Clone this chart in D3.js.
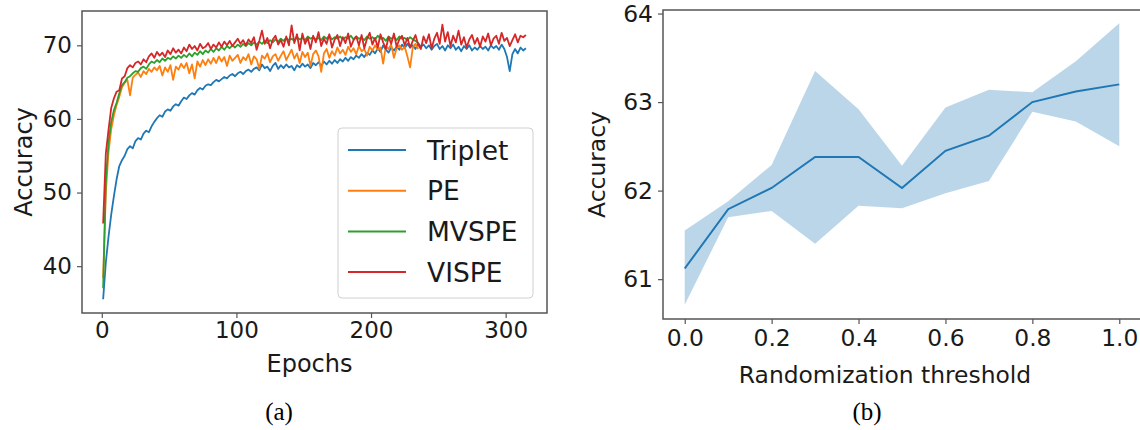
<!DOCTYPE html>
<html>
<head>
<meta charset="utf-8">
<script src="https://cdn.jsdelivr.net/npm/d3@7"></script>
<style>
  body { margin: 0; background: #fff; }
  svg { display: block; font-family: "DejaVu Sans", sans-serif; }
</style>
</head>
<body>
<svg width="1140" height="430"></svg>
<script>
// ---- data (a): accuracy per epoch, sampled every 2nd epoch ----
const epochs = [
  1,3,5,7,9,11,13,15,17,19, 21,23,25,27,29,31,33,35,37,39,
  41,43,45,47,49,51,53,55,57,59, 61,63,65,67,69,71,73,75,77,79,
  81,83,85,87,89,91,93,95,97,99, 101,103,105,107,109,111,113,115,117,119,
  121,123,125,127,129,131,133,135,137,139, 141,143,145,147,149,151,153,155,157,159,
  161,163,165,167,169,171,173,175,177,179, 181,183,185,187,189,191,193,195,197,199,
  201,203,205,207,209,211,213,215,217,219, 221,223,225,227,229,231,233,235,237,239,
  241,243,245,247,249,251,253,255,257,259, 261,263,265,267,269,271,273,275,277,279,
  281,283,285,287,289,291,293,295,297,299, 301,303,305,307,309,311,313,315
];

const triplet = [
  35.5,40.5,44.0,47.0,49.5,51.8,53.6,54.4,55.0,55.9, 56.3,56.0,57.0,57.4,57.2,58.0,58.4,58.2,59.0,59.6,
  60.1,60.5,60.3,61.0,61.3,61.1,61.7,62.0,61.8,62.4, 62.9,62.7,63.2,63.5,63.3,63.9,64.2,64.0,64.5,64.7,
  64.6,65.0,65.3,65.1,65.4,65.7,65.5,65.9,66.1,65.8, 66.2,66.4,66.1,66.5,66.7,66.4,66.8,67.0,66.6,67.4,
  66.9,67.1,66.5,67.2,67.6,66.8,67.3,66.9,67.4,67.0, 67.2,66.6,67.3,67.0,67.5,67.1,67.4,66.9,67.6,67.3,
  67.7,67.2,67.8,67.4,67.9,67.5,68.0,67.6,68.1,67.8, 68.3,67.9,68.4,68.1,68.6,68.3,68.8,68.4,69.0,68.7,
  69.3,68.9,69.6,69.1,70.0,69.4,69.0,69.7,69.3,69.8, 69.4,70.1,69.6,70.2,69.7,70.0,69.5,70.3,69.8,70.1,
  69.6,70.0,69.4,69.9,70.2,69.5,69.9,69.3,70.0,69.6, 70.1,69.4,69.8,69.2,69.9,69.5,70.0,69.3,69.7,69.4,
  69.9,69.5,69.8,69.3,70.0,69.6,69.9,69.4,70.1,69.5, 68.4,66.5,68.8,69.5,68.9,69.7,69.3,69.6
];

const pe = [
  38.4,50.0,55.5,58.6,60.5,61.9,63.0,64.3,64.9,65.3, 63.2,65.6,66.0,66.3,65.7,66.5,66.1,66.8,66.4,67.0,
  66.6,67.2,65.9,67.0,66.4,67.3,65.3,67.1,66.7,67.5, 66.9,67.6,66.2,67.4,65.5,67.8,67.1,68.0,67.3,68.1,
  67.5,68.3,67.6,68.5,67.8,68.4,67.2,68.6,67.9,68.3, 68.7,67.6,68.4,68.0,68.8,67.4,68.5,68.1,66.8,68.6,
  68.2,68.9,67.7,68.5,68.8,67.9,68.6,69.2,68.0,68.7, 69.4,68.2,68.9,67.6,69.1,68.4,69.0,67.2,68.8,69.3,
  68.5,66.4,68.9,69.5,68.3,69.2,68.6,69.7,68.9,69.4, 68.7,69.8,69.1,69.6,68.8,69.9,69.2,69.5,68.6,69.8,
  69.3,70.0,69.4,69.7,67.5,69.9,69.5,70.1,68.3,69.6, 70.0,69.4,69.8,68.5,67.0,69.7,70.2,69.5
];

const mvspe = [
  37.0,51.5,56.8,59.6,61.2,62.2,63.5,64.6,65.0,65.6, 65.8,66.2,66.5,66.4,66.9,67.1,66.8,67.4,67.8,67.6,
  68.0,67.7,68.2,67.9,68.3,68.1,68.5,68.2,68.6,68.3, 68.7,68.4,68.9,68.5,69.0,68.7,69.2,68.8,69.3,69.0,
  69.5,69.1,69.6,69.3,69.8,69.4,69.9,69.6,70.0,69.7, 70.1,69.8,70.2,69.9,70.3,70.0,70.4,70.1,70.5,70.2,
  70.6,70.3,70.7,70.4,70.8,70.5,70.9,70.6,71.0,70.7, 70.9,70.6,71.1,70.8,71.0,70.7,71.2,70.9,71.1,70.8,
  71.0,70.7,71.2,70.9,71.3,70.8,71.1,70.9,71.2,70.8, 71.1,70.9,71.3,70.8,71.2,70.9,71.0,70.7,71.2,70.9,
  71.1,70.8,71.3,70.9,71.0,70.6,71.2,70.9,71.1,70.7, 71.2,70.9,71.0,70.7,71.1,70.8,70.6,70.3
];

const vispe = [
  45.8,55.3,58.5,61.5,62.8,63.7,63.9,65.5,65.8,66.9, 67.3,67.0,67.6,67.8,67.4,68.1,67.7,68.5,68.9,68.3,
  69.1,68.6,69.0,68.4,69.3,68.8,69.6,69.0,69.4,68.9, 69.7,69.2,70.1,69.5,69.9,69.3,70.2,69.6,69.8,70.3,
  69.5,70.1,69.7,70.4,69.8,70.5,70.0,70.6,69.9,70.4, 70.9,70.2,70.7,70.0,70.8,70.3,71.1,69.4,70.6,72.0,
  70.2,71.0,69.6,70.8,71.3,70.1,70.7,69.8,71.2,70.0, 72.7,70.3,71.5,69.3,71.6,70.2,71.0,69.5,71.3,70.4,
  71.8,69.9,70.9,70.2,71.5,69.7,70.8,71.4,69.9,71.1, 70.3,71.6,69.8,70.7,71.2,70.0,71.4,69.6,70.9,71.7,
  70.1,71.0,69.7,71.5,70.4,69.5,71.1,70.2,71.6,69.8, 70.8,71.3,70.0,71.0,69.7,70.6,71.4,70.1,69.5,71.2,
  70.3,71.5,69.6,70.9,71.7,70.2,72.8,70.5,71.8,69.9, 71.3,70.4,72.0,70.1,71.1,69.7,70.8,71.4,70.2,71.0,
  69.8,71.2,70.5,71.6,70.0,70.9,71.3,70.2,71.7,70.6, 71.0,69.9,70.7,71.5,70.4,71.3,71.1,71.4
];

const seriesNames = ['Triplet', 'PE', 'MVSPE', 'VISPE'];
const seriesValues = [triplet, pe, mvspe, vispe];
const seriesColors = ['#1f77b4', '#ff7f0e', '#2ca02c', '#d62728'];
const epochTicks = [0, 100, 200, 300];
const accTicksA = [40, 50, 60, 70];

// ---- data (b): accuracy vs randomization threshold ----
const thresholds = [0.0, 0.1, 0.2, 0.3, 0.4, 0.5, 0.6, 0.7, 0.8, 0.9, 1.0];
const accMean  = [61.12, 61.79, 62.03, 62.38, 62.38, 62.03, 62.45, 62.62, 63.00, 63.12, 63.20];
const accUpper = [61.55, 61.88, 62.29, 63.35, 62.92, 62.28, 62.94, 63.14, 63.11, 63.46, 63.89];
const accLower = [60.71, 61.70, 61.77, 61.40, 61.83, 61.80, 61.97, 62.11, 62.89, 62.78, 62.50];
const thrTicks = [0.0, 0.2, 0.4, 0.6, 0.8, 1.0];
const accTicksB = [61, 62, 63, 64];

const svg = d3.select('svg');
const spine = '#555';
const ink = '#1a1a1a';

const styleAxis = (g, size) => {
  g.select('.domain').remove();
  g.selectAll('.tick line').attr('stroke', spine).attr('stroke-width', 1.2);
  g.selectAll('.tick text').attr('fill', ink).style('font-size', size + 'px')
    .style('font-family', '"DejaVu Sans", sans-serif');
};

// ================= chart (a) =================
const A = { left: 82, right: 547, top: 11, bottom: 313 };

const xA = d3.scaleLinear().domain([-14.7, 330.7]).range([A.left, A.right]);
const yA = d3.scaleLinear().domain([33.64, 74.66]).range([A.bottom, A.top]);

svg.append('g')
  .attr('transform', `translate(${A.left},0)`)
  .call(d3.axisLeft(yA).tickValues(accTicksA).tickSize(5).tickPadding(5))
  .call(g => styleAxis(g, 23));

svg.append('g')
  .attr('transform', `translate(0,${A.bottom})`)
  .call(d3.axisBottom(xA).tickValues(epochTicks).tickSize(5).tickPadding(4))
  .call(g => styleAxis(g, 23));

const lineA = d3.line()
  .x(d => xA(d[0]))
  .y(d => yA(d[1]));

seriesValues.forEach((vals, i) => {
  svg.append('path')
    .datum(vals.map((v, j) => [epochs[j], v]))
    .attr('fill', 'none')
    .attr('stroke', seriesColors[i])
    .attr('stroke-width', 1.8)
    .attr('stroke-linejoin', 'round')
    .attr('d', lineA);
});

svg.append('rect')
  .attr('x', A.left).attr('y', A.top)
  .attr('width', A.right - A.left).attr('height', A.bottom - A.top)
  .attr('fill', 'none').attr('stroke', spine).attr('stroke-width', 1.5);

// legend
const leg = svg.append('g').attr('transform', 'translate(338,128)');
leg.append('rect')
  .attr('width', 195).attr('height', 170).attr('rx', 4)
  .attr('fill', '#fff').attr('fill-opacity', 0.8)
  .attr('stroke', '#d0d0d0').attr('stroke-width', 1);
seriesNames.forEach((name, i) => {
  const yy = 22 + i * 40.7;
  leg.append('line')
    .attr('x1', 10).attr('x2', 68).attr('y1', yy).attr('y2', yy)
    .attr('stroke', seriesColors[i]).attr('stroke-width', 2);
  leg.append('text')
    .attr('x', 89).attr('y', yy + 9.5)
    .attr('fill', ink).style('font-size', '26.5px')
    .text(name);
});

svg.append('text')
  .attr('x', (A.left + A.right) / 2 - 5).attr('y', 372)
  .attr('text-anchor', 'middle').attr('fill', ink)
  .style('font-size', '24px').text('Epochs');

svg.append('text')
  .attr('transform', `translate(32,${(A.top + A.bottom) / 2}) rotate(-90)`)
  .attr('text-anchor', 'middle').attr('fill', ink)
  .style('font-size', '24px').text('Accuracy');

svg.append('text')
  .attr('x', 279).attr('y', 420)
  .attr('text-anchor', 'middle').attr('fill', '#000')
  .style('font-family', '"Liberation Serif", serif').style('font-size', '25px')
  .text('(a)');

// ================= chart (b) =================
const B = { left: 663, right: 1141, top: 10, bottom: 319 };

const xB = d3.scaleLinear().domain([-0.05, 1.05]).range([B.left, B.right]);
const yB = d3.scaleLinear().domain([60.55, 64.04]).range([B.bottom, B.top]);

svg.append('path')
  .datum(thresholds.map((t, i) => [t, accLower[i], accUpper[i]]))
  .attr('fill', '#1f77b4').attr('fill-opacity', 0.3)
  .attr('d', d3.area().x(d => xB(d[0])).y0(d => yB(d[1])).y1(d => yB(d[2])));

svg.append('path')
  .datum(thresholds.map((t, i) => [t, accMean[i]]))
  .attr('fill', 'none').attr('stroke', '#1f77b4').attr('stroke-width', 2)
  .attr('d', d3.line().x(d => xB(d[0])).y(d => yB(d[1])));

svg.append('g')
  .attr('transform', `translate(${B.left},0)`)
  .call(d3.axisLeft(yB).tickValues(accTicksB).tickFormat(d3.format('d')).tickSize(5).tickPadding(5))
  .call(g => styleAxis(g, 23.4));

svg.append('g')
  .attr('transform', `translate(0,${B.bottom})`)
  .call(d3.axisBottom(xB).tickValues(thrTicks).tickFormat(d3.format('.1f')).tickSize(5).tickPadding(5))
  .call(g => styleAxis(g, 23.4));

svg.append('rect')
  .attr('x', B.left).attr('y', B.top)
  .attr('width', B.right - B.left).attr('height', B.bottom - B.top)
  .attr('fill', 'none').attr('stroke', spine).attr('stroke-width', 1.5);

svg.append('text')
  .attr('x', (B.left + B.right) / 2 - 17).attr('y', 383)
  .attr('text-anchor', 'middle').attr('fill', ink)
  .style('font-size', '23.4px').text('Randomization threshold');

svg.append('text')
  .attr('transform', `translate(605,${(B.top + B.bottom) / 2}) rotate(-90)`)
  .attr('text-anchor', 'middle').attr('fill', ink)
  .style('font-size', '23.4px').text('Accuracy');

svg.append('text')
  .attr('x', 867).attr('y', 420)
  .attr('text-anchor', 'middle').attr('fill', '#000')
  .style('font-family', '"Liberation Serif", serif').style('font-size', '25px')
  .text('(b)');
</script>
</body>
</html>
